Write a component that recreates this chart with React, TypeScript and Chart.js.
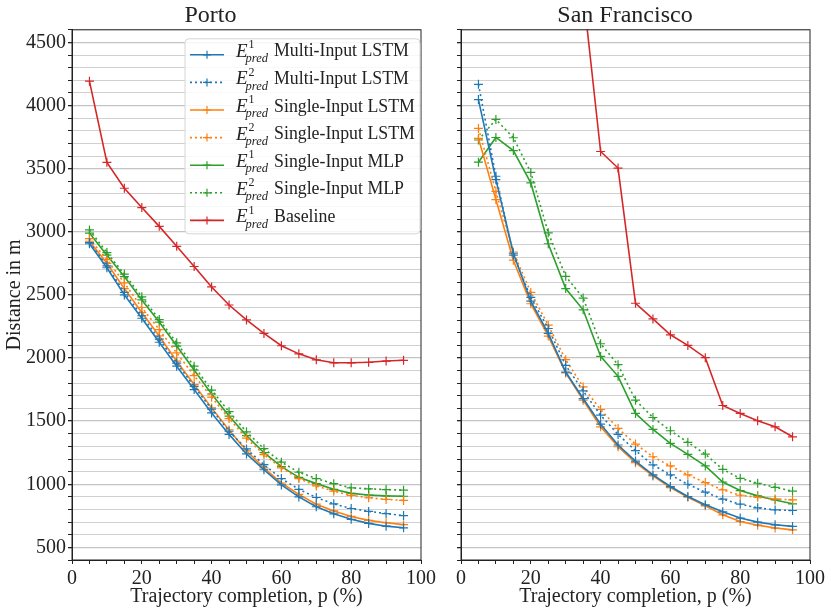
import { useEffect, useRef } from 'react';
import { Chart, registerables } from 'chart.js';

Chart.register(...registerables);

const FONT = "'Liberation Serif', 'Times New Roman', serif";
Chart.defaults.font.family = FONT;
Chart.defaults.color = '#222';

// trajectory completion in %
const pct = [5, 10, 15, 20, 25, 30, 35, 40, 45, 50, 55, 60, 65, 70, 75, 80, 85, 90, 95];

// Porto (distance in m)
const portoMultiE1 = [2905, 2715, 2500, 2315, 2125, 1935, 1750, 1565, 1395, 1240, 1115, 995, 900, 822, 766, 722, 690, 668, 655];
const portoMultiE2 = [2915, 2730, 2520, 2335, 2150, 1960, 1775, 1595, 1420, 1280, 1155, 1045, 960, 895, 845, 808, 785, 768, 752];
const portoSingleE1 = [2925, 2750, 2550, 2360, 2175, 1975, 1790, 1605, 1430, 1265, 1130, 1010, 920, 842, 789, 745, 714, 695, 680];
const portoSingleE2 = [2945, 2780, 2595, 2400, 2225, 2040, 1860, 1690, 1520, 1365, 1235, 1130, 1045, 987, 945, 912, 893, 880, 872];
const portoMlpE1 = [2990, 2815, 2645, 2460, 2285, 2095, 1905, 1715, 1540, 1385, 1250, 1140, 1055, 1005, 960, 928, 915, 908, 905];
const portoMlpE2 = [3015, 2835, 2665, 2485, 2305, 2120, 1935, 1745, 1575, 1415, 1282, 1175, 1095, 1045, 1005, 972, 964, 958, 953];
const portoBaseline = [4193, 3550, 3345, 3192, 3043, 2885, 2725, 2563, 2420, 2302, 2195, 2097, 2033, 1986, 1962, 1962, 1966, 1976, 1982];

// San Francisco (distance in m)
const sfMultiE1 = [4047, 3413, 2830, 2450, 2195, 1889, 1679, 1476, 1311, 1184, 1074, 982, 903, 837, 782, 732, 700, 679, 666];
const sfMultiE2 = [4168, 3440, 2815, 2480, 2234, 1942, 1739, 1547, 1395, 1266, 1153, 1074, 1000, 937, 882, 842, 813, 797, 792];
const sfSingleE1 = [3740, 3255, 2775, 2430, 2174, 1882, 1666, 1455, 1297, 1171, 1066, 974, 897, 829, 758, 705, 676, 653, 639];
const sfSingleE2 = [3819, 3320, 2840, 2520, 2260, 1987, 1771, 1592, 1442, 1318, 1218, 1145, 1074, 1013, 955, 913, 897, 884, 876];
const sfMlpE1 = [3551, 3747, 3643, 3387, 2905, 2550, 2382, 2013, 1855, 1561, 1434, 1324, 1237, 1145, 1018, 950, 908, 876, 845];
const sfMlpE2 = [3727, 3890, 3745, 3470, 2992, 2647, 2475, 2113, 1947, 1666, 1529, 1424, 1332, 1239, 1118, 1047, 1008, 976, 945];
// baseline starts far above the visible range
const sfBaseline = [null, null, null, null, null, null, 4900, 3636, 3505, 2434, 2310, 2184, 2100, 2003, 1624, 1561, 1503, 1455, 1376];

const seriesNames = ['Multi-Input LSTM', 'Multi-Input LSTM', 'Single-Input LSTM', 'Single-Input LSTM', 'Single-Input MLP', 'Single-Input MLP', 'Baseline'];
const errorIndex = ['1', '2', '1', '2', '1', '2', '1'];
const seriesColors = ['#1f77b4', '#1f77b4', '#ff7f0e', '#ff7f0e', '#2ca02c', '#2ca02c', '#d62728'];
const seriesDotted = [false, true, false, true, false, true, false];

const Y_MIN = 400;
const Y_MAX = 4600;

const framePlugin = {
  id: 'frame',
  afterDatasetsDraw(chart: any) {
    const { ctx, chartArea: a } = chart;
    ctx.save();
    ctx.strokeStyle = '#222';
    ctx.lineWidth = 1;
    ctx.strokeRect(a.left, a.top, a.right - a.left, a.bottom - a.top);
    ctx.restore();
  },
};

function drawCross(ctx: CanvasRenderingContext2D, x: number, y: number, r: number) {
  ctx.beginPath();
  ctx.moveTo(x - r, y);
  ctx.lineTo(x + r, y);
  ctx.moveTo(x, y - r);
  ctx.lineTo(x, y + r);
  ctx.stroke();
}

const mathLegendPlugin = {
  id: 'mathLegend',
  afterDatasetsDraw(chart: any) {
    const { ctx, chartArea: a } = chart;
    const w = 235;
    const h = 195;
    const x0 = a.right - w - 1;
    const y0 = a.top + 9;
    ctx.save();
    ctx.beginPath();
    ctx.roundRect(x0, y0, w, h, 4);
    ctx.fillStyle = 'rgba(255,255,255,0.85)';
    ctx.fill();
    ctx.strokeStyle = '#d6d6d6';
    ctx.lineWidth = 1;
    ctx.stroke();

    seriesNames.forEach((name, i) => {
      const cy = y0 + 16 + i * 27.6;
      ctx.strokeStyle = seriesColors[i];
      ctx.lineWidth = 1.6;
      ctx.setLineDash(seriesDotted[i] ? [2, 3] : []);
      ctx.beginPath();
      ctx.moveTo(x0 + 5, cy);
      ctx.lineTo(x0 + 39, cy);
      ctx.stroke();
      ctx.setLineDash([]);
      ctx.lineWidth = 1.2;
      drawCross(ctx, x0 + 22, cy, 4);

      const tx = x0 + 51;
      ctx.fillStyle = '#222';
      ctx.textBaseline = 'middle';
      ctx.textAlign = 'left';
      ctx.font = `italic 19px ${FONT}`;
      ctx.fillText('E', tx, cy - 3);
      const ew = ctx.measureText('E').width;
      ctx.font = `12px ${FONT}`;
      ctx.fillText(errorIndex[i], tx + ew + 1, cy - 10);
      ctx.font = `italic 12.5px ${FONT}`;
      ctx.fillText('pred', tx + ew - 2, cy + 4);
      const pw = ctx.measureText('pred').width;
      ctx.font = `17.8px ${FONT}`;
      ctx.fillText(name, tx + ew - 2 + pw + 6, cy - 3);
    });
    ctx.restore();
  },
};

interface PanelProps {
  title: string;
  series: (number | null)[][];
  left: number;
  width: number;
  yAxisWidth: number;
  rightPad: number;
  showYLabels: boolean;
  showLegend: boolean;
}

function Panel({ title, series, left, width, yAxisWidth, rightPad, showYLabels, showLegend }: PanelProps) {
  const canvasRef = useRef<HTMLCanvasElement>(null);
  const chartRef = useRef<Chart | null>(null);

  useEffect(() => {
    if (!canvasRef.current) return;
    if (chartRef.current) chartRef.current.destroy();

    const datasets = series.map((vals, i) => ({
      label: `E${errorIndex[i]} ${seriesNames[i]}`,
      data: vals.map((v, j) => ({ x: pct[j], y: v })),
      borderColor: seriesColors[i],
      backgroundColor: seriesColors[i],
      borderWidth: 1.6,
      borderDash: seriesDotted[i] ? [2, 3] : [],
      pointStyle: 'cross',
      pointRadius: 4.5,
      pointHoverRadius: 4.5,
      pointBorderWidth: 1.2,
      pointBorderColor: seriesColors[i],
      tension: 0,
      fill: false,
    }));

    const plugins: any[] = [framePlugin];
    if (showLegend) plugins.push(mathLegendPlugin);

    chartRef.current = new Chart(canvasRef.current, {
      type: 'line',
      data: { datasets } as any,
      plugins,
      options: {
        responsive: false,
        animation: false,
        events: [],
        layout: { padding: { left: 0, right: rightPad, top: 0, bottom: 0 } },
        plugins: {
          legend: { display: false },
          tooltip: { enabled: false },
          title: {
            display: true,
            text: title,
            color: '#222',
            font: { size: 24, weight: 'normal' },
            padding: { top: 1, bottom: 0 },
          },
        },
        scales: {
          x: {
            type: 'linear',
            min: 0,
            max: 100,
            ticks: {
              stepSize: 5,
              autoSkip: false,
              maxRotation: 0,
              padding: 3,
              color: '#222',
              font: { size: 20 },
              callback: (v: any) => (Number(v) % 20 === 0 ? String(v) : ''),
            },
            grid: { drawOnChartArea: false, tickLength: 4, tickColor: '#222' },
            border: { color: '#222' },
            title: {
              display: true,
              text: 'Trajectory completion, p (%)',
              color: '#222',
              font: { size: 20 },
              padding: { top: 0, bottom: 7 },
            },
            afterFit: (s: any) => {
              s.height = 56;
            },
          },
          y: {
            min: Y_MIN,
            max: Y_MAX,
            ticks: {
              stepSize: 100,
              autoSkip: false,
              padding: 2,
              color: '#222',
              font: { size: 20 },
              callback: (v: any) => (showYLabels && Number(v) % 500 === 0 ? String(v) : ''),
            },
            grid: {
              color: (c: any) => (c.tick && c.tick.value % 500 === 0 ? '#c4c4c4' : '#d0d0d0'),
              lineWidth: (c: any) => (c.tick && c.tick.value % 500 === 0 ? 1.3 : 1),
              tickLength: 4,
              tickColor: '#222',
            },
            border: { color: '#222' },
            title: {
              display: showYLabels,
              text: 'Distance in m',
              color: '#222',
              font: { size: 20 },
              padding: { top: 3, bottom: 0 },
            },
            afterFit: (s: any) => {
              s.width = yAxisWidth;
            },
          },
        },
      } as any,
    });

    return () => {
      if (chartRef.current) {
        chartRef.current.destroy();
        chartRef.current = null;
      }
    };
  }, [title, series, width, yAxisWidth, rightPad, showYLabels, showLegend]);

  return (
    <div style={{ position: 'absolute', left, top: 0, width, height: 616 }}>
      <canvas ref={canvasRef} width={width} height={616} />
    </div>
  );
}

const portoSeries = [portoMultiE1, portoMultiE2, portoSingleE1, portoSingleE2, portoMlpE1, portoMlpE2, portoBaseline];
const sfSeries = [sfMultiE1, sfMultiE2, sfSingleE1, sfSingleE2, sfMlpE1, sfMlpE2, sfBaseline];

export default function App() {
  return (
    <div style={{ position: 'absolute', left: 0, top: 0, width: 831, height: 616, background: '#fff', overflow: 'hidden' }}>
      <Panel title="Porto" series={portoSeries} left={0} width={440} yAxisWidth={72} rightPad={19} showYLabels showLegend />
      <Panel title="San Francisco" series={sfSeries} left={440} width={391} yAxisWidth={21} rightPad={21} showYLabels={false} showLegend={false} />
    </div>
  );
}
